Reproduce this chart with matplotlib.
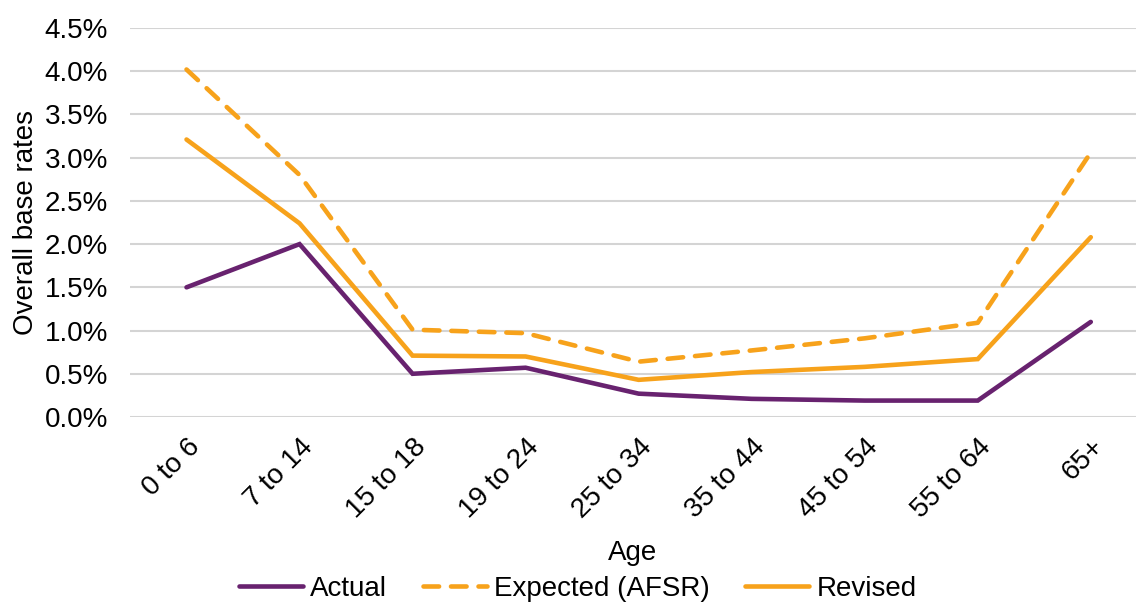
import matplotlib.pyplot as plt
from matplotlib.ticker import PercentFormatter

plt.rcParams['font.family'] = ['Liberation Sans', 'DejaVu Sans']

ages = ['0 to 6', '7 to 14', '15 to 18', '19 to 24', '25 to 34',
        '35 to 44', '45 to 54', '55 to 64', '65+']
actual = [1.50, 2.00, 0.50, 0.57, 0.27, 0.21, 0.19, 0.19, 1.10]
expected = [4.02, 2.80, 1.01, 0.97, 0.64, 0.77, 0.91, 1.09, 3.06]
revised = [3.21, 2.24, 0.71, 0.70, 0.43, 0.52, 0.58, 0.67, 2.08]

purple = '#68226F'
orange = '#F7A21B'

fig = plt.figure(figsize=(11.37, 6.03), dpi=100)
ax = fig.add_axes([130 / 1137, 1 - 417 / 603, 1006 / 1137, 389 / 603])

x = range(len(ages))
ax.plot(x, actual, color=purple, lw=3.3, solid_capstyle='round',
        solid_joinstyle='miter', label='Actual')
ax.plot(x, expected, color=orange, lw=3.3, dashes=(3.4, 2.6),
        dash_capstyle='round', label='Expected (AFSR)')
ax.plot(x, revised, color=orange, lw=3.3, solid_capstyle='round',
        solid_joinstyle='miter', label='Revised')

ax.set_xlim(-0.5, 8.4)
ax.set_ylim(0, 4.5)
ax.set_yticks([i * 0.5 for i in range(10)])
ax.yaxis.set_major_formatter(PercentFormatter(decimals=1))
ax.set_xticks(list(x))
ax.set_xticklabels(ages, rotation=45, ha='right', rotation_mode='anchor')
ax.tick_params(length=0, labelsize=20)
ax.tick_params(axis='y', pad=16)
ax.tick_params(axis='x', pad=12)
ax.grid(axis='y', color='#D4D4D4', lw=1.5)
ax.set_axisbelow(True)
for s in ax.spines.values():
    s.set_visible(False)

ax.set_ylabel('Overall base rates', fontsize=20, labelpad=4)
ax.set_xlabel('Age', fontsize=20, labelpad=12)

fig.legend(loc='lower center', bbox_to_anchor=(0.508, -0.04), ncol=3,
           frameon=False, fontsize=20, handlelength=2.3, handletextpad=0.25,
           columnspacing=1.3)

fig.savefig('out.png', dpi=100)
